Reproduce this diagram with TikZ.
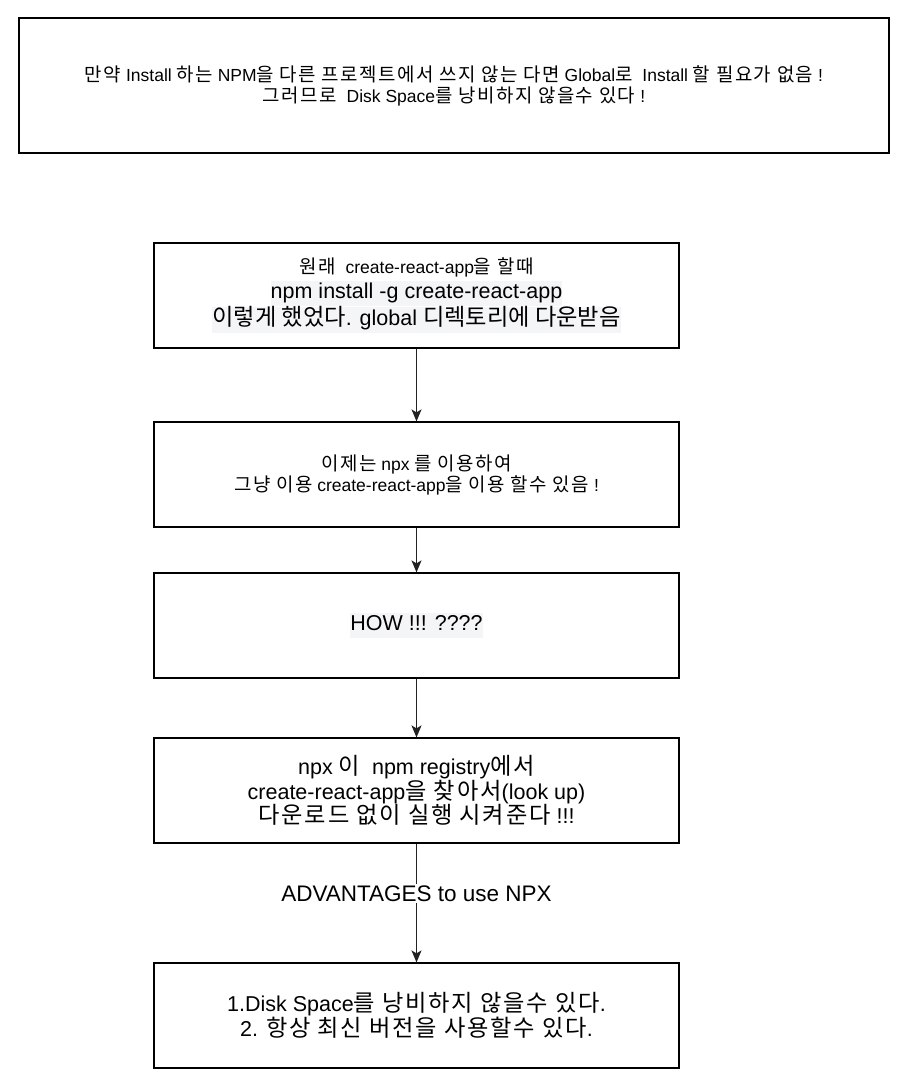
\documentclass[tikz,border=0pt]{standalone}
\usepackage{fontspec}
\setmainfont{Liberation Sans}
\newfontfamily\krfont[Scale=1.08,LetterSpace=8]{Noto Sans CJK KR}
\newfontfamily\krplain[Scale=1.08]{Noto Sans CJK KR}
\usetikzlibrary{arrows.meta}
\newcommand\K[1]{{\krfont#1}}
\newcommand\KP[1]{{\krplain#1}}
\definecolor{hlc}{HTML}{F4F5F7}
\definecolor{arr}{HTML}{222222}
\newcommand\hlbox[1]{{\setlength\fboxsep{0pt}\colorbox{hlc}{\strut#1}}}
\tikzset{
  box/.style={draw=black, line width=1.2pt, fill=white, align=center, inner sep=0pt},
  flow/.style={draw=arr, line width=1.4pt, -{Stealth[length=12pt,width=10pt,inset=3pt]}},
  small/.style={font=\fontsize{17.5}{21}\selectfont},
  big/.style={font=\fontsize{21.5}{24.5}\selectfont},
  lab/.style={fill=white, inner sep=2pt, font=\fontsize{22.5}{26}\selectfont}
}
\begin{document}
\begin{tikzpicture}[x=1pt,y=-1pt]
\useasboundingbox (0,0) rectangle (909,1083);
\fill[white] (0,0) rectangle (909,1083);
% top note
\node[box, small, minimum width=870pt, minimum height=135pt] (note) at (454,85.5)
 {\K{만약} Install \K{하는} NPM\K{을 다른 프로젝트에서 쓰지 않는 다면} Global\K{로}\ \ Install \K{할 필요가 없음} !\\
  \K{그러므로}\ \ Disk Space\K{를 낭비하지 않을수 있다} !};
% flow boxes
\node[box, big, minimum width=525pt, minimum height=105pt] (b1) at (416.5,295.5)
 {{\fontsize{17.5}{21}\selectfont\K{원래}\ \ create-react-app\K{을 할때}}\\
  \hlbox{npm install -g create-react-app}\\
  \hlbox{\KP{이렇게 했었다}. global \KP{디렉토리에 다운받음}}};
\node[box, small, minimum width=525pt, minimum height=105pt] (b2) at (416.5,474.5)
 {\K{이제는} npx \K{를 이용하여}\\
  \K{그냥 이용} create-react-app\K{을 이용 할수 있음} !};
\node[box, big, minimum width=525pt, minimum height=105pt] (b3) at (416.5,625.5)
 {\hlbox{HOW !!! ????}};
\node[box, big, minimum width=525pt, minimum height=105pt] (b4) at (416.5,790.5)
 {npx \K{이}\ \ npm registry\K{에서}\\
  create-react-app\K{을 찾아서}(look up)\\
  \K{다운로드 없이 실행 시켜준다} !!!};
\node[box, big, minimum width=525pt, minimum height=105pt] (b5) at (416.5,1015.5)
 {1.Disk Space\K{를 낭비하지 않을수 있다}.\\
  2. \K{항상 최신 버전을 사용할수 있다}.};
% connectors
\draw[flow] (b1) -- (b2);
\draw[flow] (b2) -- (b3);
\draw[flow] (b3) -- (b4);
\draw[flow] (b4) -- node[lab, pos=0.42] (adv) {ADVANTAGES to use NPX} (b5);
\end{tikzpicture}
\end{document}
